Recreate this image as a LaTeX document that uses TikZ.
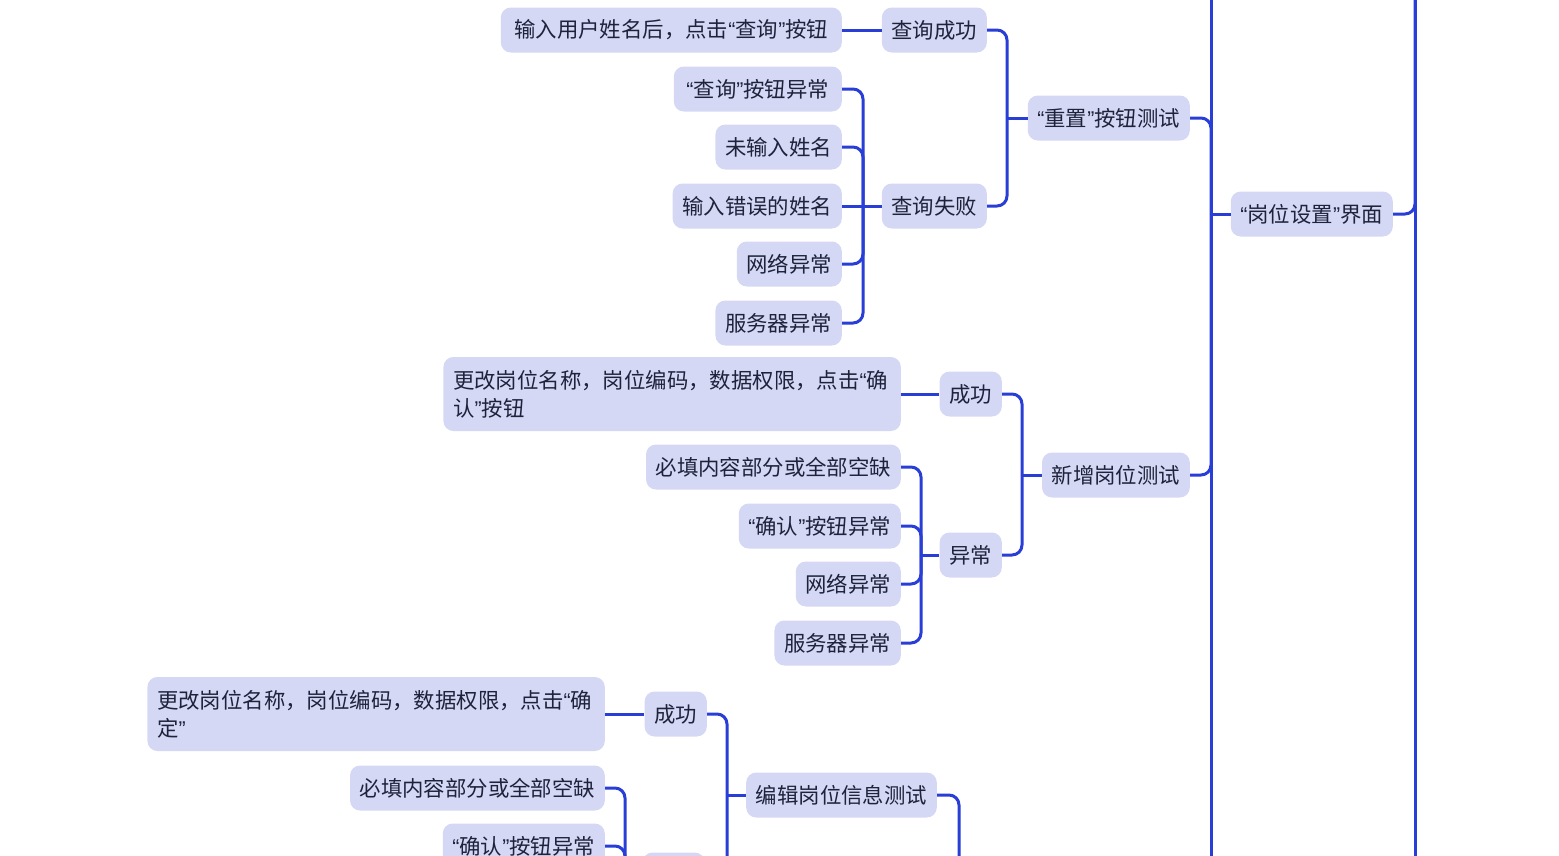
\documentclass[tikz,border=0pt]{standalone}
\usepackage{fontspec}
\setmainfont{Noto Sans CJK SC}
\newfontfamily\qfont{Liberation Sans}
\newcommand\qlft{{\qfont “}}
\newcommand\qrgt{{\qfont ”}}
\definecolor{lc}{RGB}{40,62,214}
\definecolor{nodefill}{RGB}{213,216,245}
\definecolor{txt}{RGB}{30,34,58}
\tikzset{
  box/.style={fill=nodefill, rounded corners=10pt, text=txt, inner xsep=9.7pt, inner ysep=0pt,
    minimum height=45pt, anchor=east, font=\fontsize{21.4pt}{28pt}\selectfont},
  widebox/.style={box, text width=438pt, align=left, minimum height=74pt},
  conn/.style={draw=lc, line width=3pt, rounded corners=10pt}
}
\begin{document}
\begin{tikzpicture}[x=1pt,y=-1pt]
\useasboundingbox (0,0) rectangle (1559,855);
\clip (0,0) rectangle (1559,855);
% nodes
\node[box, minimum width=341pt] (n1) at (842,30) {输入用户姓名后，点击\qlft 查询\qrgt 按钮};
\node[box] (n2) at (987,30) {查询成功};
\node[box, minimum width=168pt] (n3) at (842,89) {\qlft 查询\qrgt 按钮异常};
\node[box] (n4) at (842,147) {未输入姓名};
\node[box] (n5) at (842,206) {输入错误的姓名};
\node[box] (n6) at (987,206) {查询失败};
\node[box] (n7) at (842,264) {网络异常};
\node[box] (n8) at (842,323) {服务器异常};
\node[box] (n9) at (1190,118) {\qlft 重置\qrgt 按钮测试};
\node[box] (n10) at (1393,214) {\qlft 岗位设置\qrgt 界面};
\node[widebox] (n11) at (901,394) {更改岗位名称，岗位编码，数据权限，点击\qlft 确\\认\qrgt 按钮};
\node[box] (n12) at (1002,394) {成功};
\node[box] (n13) at (901,467) {必填内容部分或全部空缺};
\node[box] (n14) at (901,526) {\qlft 确认\qrgt 按钮异常};
\node[box] (n15) at (901,584) {网络异常};
\node[box] (n16) at (901,643) {服务器异常};
\node[box] (n17) at (1002,555) {异常};
\node[box] (n18) at (1190,475) {新增岗位测试};
\node[widebox] (n19) at (605,714) {更改岗位名称，岗位编码，数据权限，点击\qlft 确\\定\qrgt};
\node[box] (n20) at (707,714) {成功};
\node[box] (n21) at (605,788) {必填内容部分或全部空缺};
\node[box] (n22) at (605,846) {\qlft 确认\qrgt 按钮异常};
\node[box] (n23) at (705,875) {异常};
\node[box] (n24) at (937,795) {编辑岗位信息测试};
% junctions
\coordinate (jqf) at (863,206);
\coordinate (jcz) at (1007,118);
\coordinate (jgw) at (1211,214);
\coordinate (gwtop) at (1211,-10);
\coordinate (gwbot) at (1211,870);
\coordinate (roottop) at (1415,-10);
\coordinate (rootbot) at (1415,870);
\coordinate (jxz) at (1022,475);
\coordinate (jyc) at (921,555);
\coordinate (jbj) at (727,795);
\coordinate (jyc2) at (625,875);
\coordinate (bjpar) at (959,900);
% connectors
\draw[conn] (n1.east) -- (n2.west);
\draw[conn] (n3.east) -| (jqf);
\draw[conn] (n4.east) -| (jqf);
\draw[conn] (n5.east) -- (jqf);
\draw[conn] (n7.east) -| (jqf);
\draw[conn] (n8.east) -| (jqf);
\draw[conn] (jqf) -- (n6.west);
\draw[conn] (n2.east) -| (jcz);
\draw[conn] (n6.east) -| (jcz);
\draw[conn] (jcz) -- (n9.west);
\draw[conn] (gwtop) -- (gwbot);
\draw[conn] (n9.east) -| (jgw);
\draw[conn] (n18.east) -| (jgw);
\draw[conn] (jgw) -- (n10.west);
\draw[conn] (roottop) -- (rootbot);
\draw[conn] (n10.east) -| (roottop);
\draw[conn] (n11.east) -- (n12.west);
\draw[conn] (n12.east) -| (jxz);
\draw[conn] (n17.east) -| (jxz);
\draw[conn] (jxz) -- (n18.west);
\draw[conn] (n13.east) -| (jyc);
\draw[conn] (n14.east) -| (jyc);
\draw[conn] (n15.east) -| (jyc);
\draw[conn] (n16.east) -| (jyc);
\draw[conn] (jyc) -- (n17.west);
\draw[conn] (n19.east) -- (n20.west);
\draw[conn] (n20.east) -| (jbj);
\draw[conn] (n23.east) -| (jbj);
\draw[conn] (jbj) -- (n24.west);
\draw[conn] (n21.east) -| (jyc2);
\draw[conn] (n22.east) -| (jyc2);
\draw[conn] (jyc2) -- (n23.west);
\draw[conn] (n24.east) -| (bjpar);
\end{tikzpicture}
\end{document}
